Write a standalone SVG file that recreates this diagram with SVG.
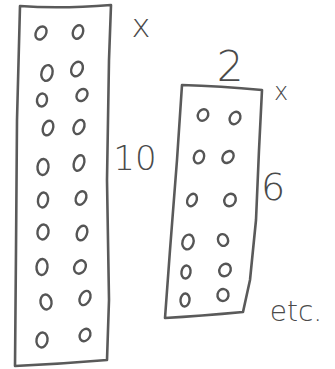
<svg xmlns="http://www.w3.org/2000/svg" width="335" height="369" viewBox="0 0 335 369">
<style>
.ln{fill:none;stroke:#5a5a5a;stroke-width:2.6;stroke-linecap:round;stroke-linejoin:round}
.o{fill:none;stroke:#555;stroke-width:2.4}
.t{fill:#4a4a4a;font-family:"DejaVu Sans","Liberation Sans",sans-serif;font-weight:200}
</style>
<rect width="335" height="369" fill="#fff"/>
<g id="big-panel">
<path class="ln" d="M20,6 Q60,9 111,5 L109,60 L107,180 L109,300 L107,360 Q60,364 15,366 L16,250 L17,120 Z"/>
<g>
<ellipse class="o" cx="41" cy="33" rx="5" ry="7" transform="rotate(30 41 33)"/>
<ellipse class="o" cx="78" cy="32" rx="5" ry="7" transform="rotate(20 78 32)"/>
<ellipse class="o" cx="47" cy="73" rx="5.5" ry="8" transform="rotate(15 47 73)"/>
<ellipse class="o" cx="77" cy="69" rx="5.5" ry="7.5" transform="rotate(25 77 69)"/>
<ellipse class="o" cx="42" cy="100" rx="5" ry="6.5" transform="rotate(10 42 100)"/>
<ellipse class="o" cx="82" cy="95" rx="5" ry="6.5" transform="rotate(35 82 95)"/>
<ellipse class="o" cx="48" cy="128" rx="5" ry="7.5" transform="rotate(20 48 128)"/>
<ellipse class="o" cx="79" cy="127" rx="5" ry="7.5" transform="rotate(25 79 127)"/>
<ellipse class="o" cx="43" cy="167" rx="5.5" ry="8" transform="rotate(5 43 167)"/>
<ellipse class="o" cx="79" cy="163" rx="5" ry="8" transform="rotate(20 79 163)"/>
<ellipse class="o" cx="43" cy="200" rx="5" ry="7.5" transform="rotate(10 43 200)"/>
<ellipse class="o" cx="81" cy="198" rx="5" ry="7" transform="rotate(25 81 198)"/>
<ellipse class="o" cx="43" cy="232" rx="5.5" ry="7.5" transform="rotate(10 43 232)"/>
<ellipse class="o" cx="82" cy="233" rx="5" ry="7.5" transform="rotate(20 82 233)"/>
<ellipse class="o" cx="42" cy="267" rx="5.5" ry="8" transform="rotate(5 42 267)"/>
<ellipse class="o" cx="80" cy="267" rx="5.5" ry="7" transform="rotate(30 80 267)"/>
<ellipse class="o" cx="46" cy="302" rx="5.5" ry="7.5" transform="rotate(-10 46 302)"/>
<ellipse class="o" cx="85" cy="298" rx="5" ry="7.5" transform="rotate(25 85 298)"/>
<ellipse class="o" cx="42" cy="340" rx="5.5" ry="7.5" transform="rotate(10 42 340)"/>
<ellipse class="o" cx="85" cy="335" rx="5" ry="6.5" transform="rotate(30 85 335)"/>
</g>
</g>
<g id="big-labels">
<text class="t" x="141" y="37" font-size="32" text-anchor="middle">x</text>
<text class="t" x="135" y="170" font-size="34" text-anchor="middle">10</text>
</g>
<g id="small-panel">
<path class="ln" d="M182,85 Q220,86 262,90 L259,150 L256,220 L250,280 L243,312 Q200,316 165,318 L170,250 L177,160 Z"/>
<g>
<ellipse class="o" cx="203" cy="115" rx="5" ry="6" transform="rotate(30 203 115)"/>
<ellipse class="o" cx="235" cy="118" rx="5" ry="6.5" transform="rotate(30 235 118)"/>
<ellipse class="o" cx="199" cy="157" rx="5" ry="6.5" transform="rotate(20 199 157)"/>
<ellipse class="o" cx="228" cy="157" rx="5" ry="6.5" transform="rotate(40 228 157)"/>
<ellipse class="o" cx="192" cy="200" rx="4.5" ry="6.5" transform="rotate(25 192 200)"/>
<ellipse class="o" cx="230" cy="200" rx="5.5" ry="6.5" transform="rotate(30 230 200)"/>
<ellipse class="o" cx="188" cy="242" rx="5.5" ry="7.5" transform="rotate(15 188 242)"/>
<ellipse class="o" cx="223" cy="240" rx="5" ry="6" transform="rotate(-20 223 240)"/>
<ellipse class="o" cx="186" cy="272" rx="4.5" ry="6.5" transform="rotate(10 186 272)"/>
<ellipse class="o" cx="225" cy="270" rx="5.5" ry="6.5" transform="rotate(30 225 270)"/>
<ellipse class="o" cx="185" cy="300" rx="4.5" ry="6.5" transform="rotate(5 185 300)"/>
<ellipse class="o" cx="223" cy="295" rx="5.5" ry="6" transform="rotate(10 223 295)"/>
</g>
</g>
<g id="small-labels">
<text class="t" x="230" y="81" font-size="42" text-anchor="middle">2</text>
<text class="t" x="281" y="100" font-size="24" text-anchor="middle">x</text>
<text class="t" x="273" y="200" font-size="38" text-anchor="middle">6</text>
<text class="t" x="296" y="321" font-size="28" text-anchor="middle">etc.</text>
</g>
</svg>
